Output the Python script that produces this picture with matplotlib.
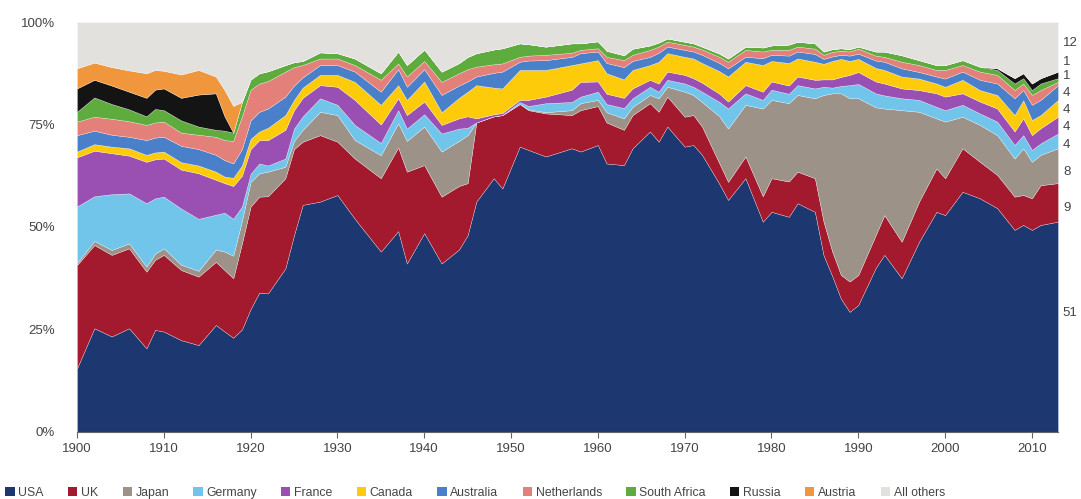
import numpy as np
import matplotlib
matplotlib.use('Agg')
import matplotlib.pyplot as plt
from matplotlib.patches import Patch

plt.rcParams['font.family'] = ['Liberation Sans', 'DejaVu Sans']

# share of world equity market value (%)
years = [1900, 1902, 1904, 1906, 1908, 1909, 1910, 1912, 1914, 1916,
         1917, 1918, 1919, 1920, 1921, 1922, 1924, 1925, 1926, 1928,
         1930, 1932, 1935, 1937, 1938, 1940, 1942, 1944, 1945, 1946,
         1948, 1949, 1951, 1952, 1954, 1957, 1958, 1960, 1961, 1963,
         1964, 1966, 1967, 1968, 1970, 1971, 1972, 1974, 1975, 1977,
         1979, 1980, 1982, 1983, 1985, 1986, 1987, 1988, 1989, 1990,
         1992, 1993, 1995, 1997, 1999, 2000, 2002, 2004, 2006, 2008,
         2009, 2010, 2011, 2013]

usa = [15.5, 25.3, 23.3, 25.3, 20.4, 24.9, 24.5, 22.4, 21.2, 26.1,
       24.5, 23.0, 25.0, 30, 34, 33.8, 39.9, 48, 55.4, 56.2,
       57.8, 52, 44, 49, 41.1, 48.5, 41.1, 44.5, 48, 56.2,
       61.9, 59.4, 69.6, 68.8, 67.2, 69.2, 68.4, 70, 65.5, 65.1,
       69.2, 73.3, 70.8, 74.5, 69.6, 70, 67.6, 60.5, 56.6, 61.9,
       51.3, 53.7, 52.5, 55.8, 53.7, 43.1, 38, 32.5, 29.3, 31,
       40, 43.2, 37.5, 46.4, 53.7, 52.9, 58.6, 57, 54.6, 49.3,
       50.5, 49.3, 50.5, 51.3]
uk = [25.2, 20.3, 19.9, 19.5, 18.7, 17.1, 18.7, 17.1, 16.7, 15.4,
      15.0, 14.5, 21.0, 25, 23.4, 23.7, 22.0, 21, 15.4, 16.2,
      13.0, 14.7, 17.9, 20.4, 22.4, 16.6, 16.3, 15.5, 12.7, 19.3,
      15.1, 17.9, 10.4, 9.7, 10.5, 8.1, 10.1, 9.5, 10, 8.6,
      8.1, 6.9, 7.3, 7.3, 7.3, 7.3, 6.9, 5.0, 4.4, 5.3,
      6.2, 8.2, 8.6, 7.7, 8.2, 8.2, 6, 5.8, 7.4, 7.3,
      8, 9.7, 8.9, 9.8, 10.6, 9, 10.6, 8.9, 8.1, 8.1,
      7.3, 7.7, 9.7, 9.4]
japan = [0.5, 1.0, 1.2, 1.2, 1.2, 1.5, 1.6, 1.3, 1.4, 3.0,
         4.5, 5.5, 5.5, 6, 5.7, 6.0, 2.8, 2, 2.9, 5.7,
         6.5, 4.5, 5.6, 5.9, 7.5, 9.4, 11.0, 11.0, 11.7, 0,
         0, 0, 0, 0.2, 0.3, 1.2, 1.7, 1.5, 2.5, 2.8,
         2.0, 2.0, 3.3, 2.4, 6.1, 4.9, 6.0, 11.5, 13.0, 12.6,
         21.4, 19.1, 19.1, 18.7, 19.5, 30.9, 38.6, 44.3, 44.7, 43.1,
         31.2, 26, 32.1, 21.9, 12.2, 13.8, 7.7, 9, 9.7, 9.3,
         11.4, 8.9, 7.4, 8.5]
germany = [13.8, 10.9, 13.6, 12.2, 15.5, 13.5, 12.6, 13.7, 12.7, 8.5,
           9.5, 9.0, 3.5, 2, 2.4, 1.5, 2.0, 3, 3.3, 3.3,
           2.5, 3.7, 3.0, 3.2, 3.0, 3.0, 4.4, 3.0, 1.8, 0,
           0, 0, 0.5, 0.8, 2.2, 2.0, 1.6, 2.0, 2.0, 2.5,
           2.1, 2.0, 1.6, 1.7, 2.0, 2.0, 2.5, 3.5, 4.9, 2.8,
           2.1, 2.5, 2.3, 2.4, 2.4, 2.0, 1.4, 1.8, 3.2, 3.5,
           3.4, 3.2, 2.9, 2.9, 2.8, 2.8, 2.9, 2.8, 3.3, 3.3,
           3.2, 2.9, 2.8, 3.6]
france = [12.0, 11.1, 10.0, 9.2, 10.1, 9.5, 9.3, 9.5, 11.1, 8.5,
          7.2, 8.0, 7.5, 6, 5.7, 6.2, 7.0, 4.5, 4.5, 3.2,
          4.4, 6.1, 4.5, 2.9, 3.3, 3.1, 2.1, 2.5, 2.8, 1.0,
          0.5, 0.5, 0.5, 1.5, 1.6, 3.0, 3.6, 2.5, 2.5, 2.5,
          2.4, 1.7, 2.0, 2.0, 2.1, 2.1, 2.2, 2.0, 1.7, 2.0,
          2.0, 2.0, 2.0, 2.1, 2.1, 1.8, 2.0, 2.2, 2.5, 2.9,
          2.9, 2.9, 2.4, 2.4, 3.3, 3.3, 2.8, 2.9, 3.2, 3.3,
          4.1, 3.6, 3.7, 4.1]
canada = [1.4, 1.6, 1.6, 1.8, 1.7, 1.7, 1.7, 1.8, 1.9, 2.0,
          1.6, 2.0, 2.5, 2.5, 2.1, 3.0, 3.6, 2.5, 2.5, 2.5,
          2.9, 4.4, 4.8, 3.2, 3.7, 4.9, 3.1, 5.0, 6.0, 8.1,
          6.5, 6.0, 7.3, 7.3, 6.5, 6.0, 4.5, 5.2, 5.0, 4.5,
          4.5, 3.6, 5.3, 4.5, 4.4, 4.8, 4.8, 5.5, 6.1, 5.7,
          6.5, 5.0, 5.5, 4.4, 4.4, 3.8, 4.5, 4.4, 3.4, 3.2,
          3.3, 3.3, 2.9, 2.8, 2.4, 2.4, 3.3, 2.8, 3.3, 4.0,
          4.4, 3.7, 3.2, 4.1]
australia = [4.0, 3.3, 2.9, 2.8, 3.6, 3.6, 3.6, 4.0, 4.0, 4.1,
             4.0, 3.5, 4.0, 4.5, 4.8, 4.7, 4.5, 3.5, 2.5, 2.4,
             2.4, 2.5, 3.2, 3.9, 3.2, 3.0, 4.2, 3.0, 2.5, 2.1,
             3.6, 4.1, 2.0, 2.3, 2.4, 2.0, 2.5, 2.1, 2.5, 3.0,
             2.2, 2.0, 2.2, 1.6, 1.7, 1.7, 2.0, 2.0, 2.0, 1.2,
             1.7, 1.5, 1.8, 1.7, 1.9, 1.2, 1.1, 1.0, 1.3, 1.3,
             1.8, 2.0, 2.0, 1.6, 1.7, 2.0, 2.0, 2.5, 2.8, 4.1,
             2.5, 3.7, 3.7, 3.6]
netherlands = [3.3, 3.4, 3.9, 3.8, 3.7, 3.7, 3.7, 3.2, 3.5, 4.4,
               4.9, 5.5, 8.0, 7.5, 6.9, 6.7, 6.1, 4.5, 3.0, 1.6,
               1.6, 1.6, 2.9, 1.4, 2.5, 2.0, 3.2, 3.0, 3.0, 2.4,
               2.1, 2.0, 1.2, 1.2, 1.3, 1.0, 0.8, 0.8, 1.5, 1.7,
               1.5, 1.7, 1.5, 1.2, 1.2, 1.2, 1.3, 1.5, 1.6, 1.7,
               1.6, 1.2, 1.4, 1.2, 1.3, 1.0, 1.1, 1.0, 1.0, 1.2,
               1.2, 1.2, 1.6, 1.7, 1.6, 2.1, 1.6, 2.0, 2.1, 2.0,
               1.6, 2.4, 2.4, 0.8]
south_africa = [2.4, 4.7, 3.6, 2.9, 2.1, 3.3, 2.8, 3.0, 2.0, 1.7,
                2.3, 2.0, 3.5, 2.5, 2.5, 2.4, 1.6, 1.2, 1.0, 1.5,
                1.3, 1.6, 1.6, 2.9, 2.8, 2.8, 2.5, 2.5, 3.0, 3.3,
                3.6, 3.7, 3.3, 2.8, 2.0, 2.3, 1.6, 1.7, 1.5, 1.2,
                1.5, 1.1, 1.0, 0.8, 0.8, 0.8, 0.7, 0.8, 0.8, 0.8,
                1.0, 1.1, 1.3, 1.2, 1.3, 0.8, 0.7, 0.6, 0.6, 0.5,
                1.0, 1.3, 1.6, 1.2, 1.2, 1.2, 1.2, 1.2, 1.2, 1.6,
                1.3, 1.2, 1.6, 0.9]
russia = ([5.7, 4.3, 4.5, 4.3, 4.5, 4.7, 5.3, 5.5, 7.8, 8.9, 3.5]
          + [0.0] * 57 + [0.4, 1.3, 1.2, 1.6, 1.3, 1.6])
austria = ([4.9, 4.2, 4.5, 5.2, 6.0, 4.8, 4.3, 5.7, 6.0, 4.1, 6.4, 6.5]
           + [0.0] * 62)

names = ['USA', 'UK', 'Japan', 'Germany', 'France', 'Canada', 'Australia',
         'Netherlands', 'South Africa', 'Russia', 'Austria', 'All others']
colors = ['#1d3770', '#a3192d', '#9d9288', '#72c5ea', '#9a4fb3', '#fdcb0a',
          '#4a7fc9', '#e4807a', '#5eab3e', '#141414', '#f0973d', '#e3e1de']

# end-of-period figures printed at the right edge
end_labels = ['51', '9', '8', '4', '4', '4', '4', '1', '1', '12']
end_label_y = [29, 54.6, 63.4, 70, 74.4, 78.5, 82.7, 86.8, 90.2, 94.9]

stack = np.array([usa, uk, japan, germany, france, canada, australia,
                  netherlands, south_africa, russia, austria], dtype=float)
others = 100 - stack.sum(axis=0)

fig = plt.figure(figsize=(10.81, 4.99), dpi=100)
ax = fig.add_axes([0.0712, 0.1343, 0.9075, 0.8216])

ax.stackplot(years, *stack, others, colors=colors, labels=names,
             linewidth=0.3, edgecolor=(1, 1, 1, 0.6))

ax.set_xlim(1900, 2013)
ax.set_ylim(0, 100)
ax.set_xticks(range(1900, 2011, 10))
ax.set_yticks([0, 25, 50, 75, 100])
ax.set_yticklabels(['0%', '25%', '50%', '75%', '100%'])

for s in ['top', 'right', 'left']:
    ax.spines[s].set_visible(False)
ax.spines['bottom'].set_color('#666666')
ax.spines['bottom'].set_linewidth(0.8)
ax.tick_params(axis='x', length=4, width=0.8, color='#666666',
               labelsize=9.5, labelcolor='#444444', pad=4)
ax.tick_params(axis='y', length=0, labelsize=9.5, labelcolor='#444444', pad=16)

for txt, yv in zip(end_labels, end_label_y):
    ax.text(1.005, yv, txt, transform=ax.get_yaxis_transform(),
            ha='left', va='center', fontsize=9.5, color='#444444')

handles = [Patch(facecolor=c, edgecolor='none') for c in colors]
fig.legend(handles, names, loc='lower left', bbox_to_anchor=(-0.004, -0.02),
           ncol=12, frameon=False, fontsize=8.8, handlelength=0.75,
           handleheight=0.75, handletextpad=0.3, columnspacing=2.0,
           borderpad=0.3, labelcolor='#444444')

fig.savefig('out.png', dpi=100)
